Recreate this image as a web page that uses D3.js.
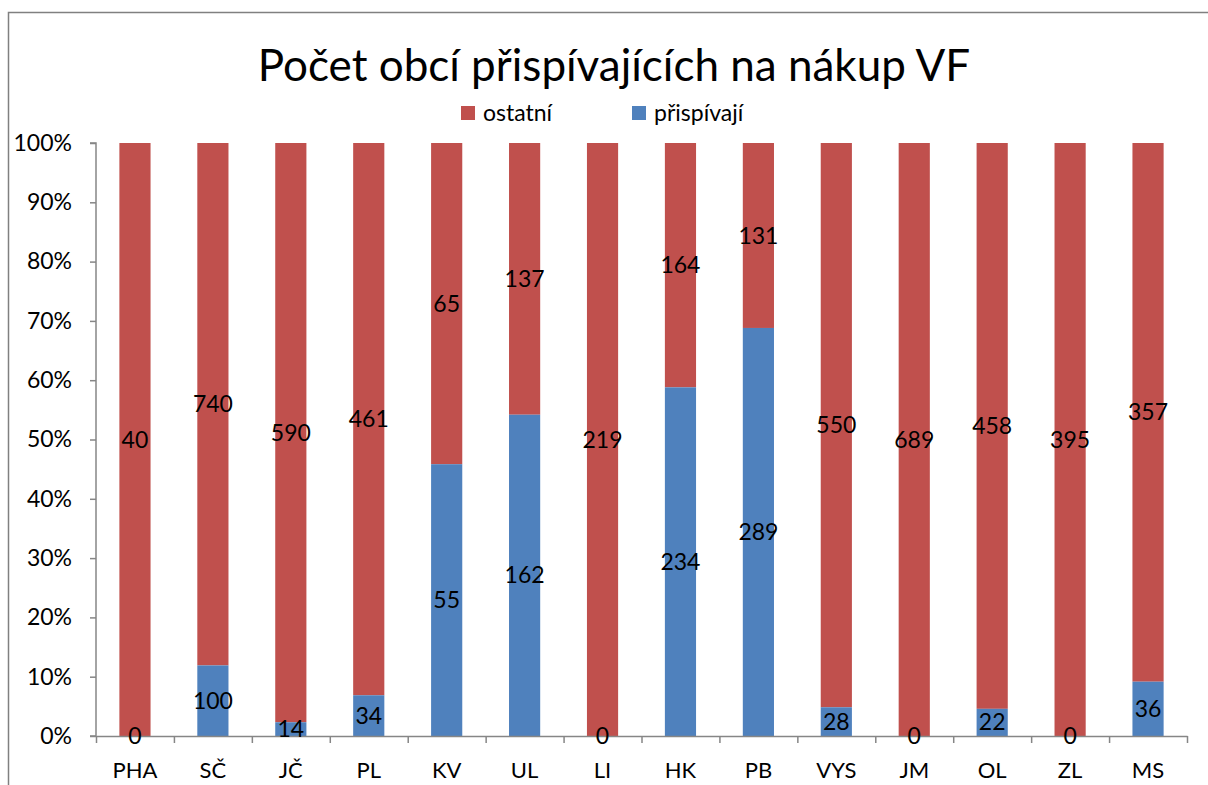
<!DOCTYPE html>
<html>
<head>
<meta charset="utf-8">
<script src="https://cdn.jsdelivr.net/npm/d3@7"></script>
<style>
  body { margin: 0; background: #fff; }
  svg { font-family: Lato, "Open Sans", sans-serif; }
</style>
</head>
<body>
<div id="chart"></div>
<script>
const categories = ["PHA", "SČ", "JČ", "PL", "KV", "UL", "LI", "HK", "PB", "VYS", "JM", "OL", "ZL", "MS"];
const prispivaji = [0, 100, 14, 34, 55, 162, 0, 234, 289, 28, 0, 22, 0, 36];
const ostatni = [40, 740, 590, 461, 65, 137, 219, 164, 131, 550, 689, 458, 395, 357];
const yTicks = [0, 0.1, 0.2, 0.3, 0.4, 0.5, 0.6, 0.7, 0.8, 0.9, 1];

const width = 1208, height = 785;
const margin = {top: 143, right: 21, bottom: 49, left: 96};
const innerW = width - margin.left - margin.right;
const innerH = height - margin.top - margin.bottom;

const red = "#C0504D", blue = "#4F81BD", axisColor = "#868686";

const rows = categories.map((c, i) => {
    const total = prispivaji[i] + ostatni[i];
    return {cat: c, blue: prispivaji[i], red: ostatni[i], pb: prispivaji[i] / total, pr: ostatni[i] / total};
});

const svg = d3.select("#chart").append("svg")
    .attr("width", width)
    .attr("height", height);

// outer frame (only left and top visible)
svg.append("path")
    .attr("d", "M8.5,785 L8.5,12.5 L1208,12.5")
    .attr("fill", "none")
    .attr("stroke", "#808080")
    .attr("stroke-width", 1.5);

svg.append("text")
    .attr("x", 614)
    .attr("y", 81)
    .attr("text-anchor", "middle")
    .attr("font-size", 44)
    .attr("fill", "#000")
    .text("Počet obcí přispívajících na nákup VF");

// legend
const legend = [{name: "ostatní", color: red, x: 461}, {name: "přispívají", color: blue, x: 632}];
const lg = svg.selectAll(".leg").data(legend).join("g")
    .attr("class", "leg")
    .attr("transform", d => "translate(" + d.x + ",106)");
lg.append("rect").attr("width", 14).attr("height", 14).attr("fill", d => d.color);
lg.append("text").attr("x", 22).attr("y", 15).attr("font-size", 23).text(d => d.name);

const g = svg.append("g")
    .attr("transform", "translate(" + margin.left + "," + margin.top + ")");

const x = d3.scaleBand().domain(categories).range([0, innerW]).paddingInner(0.6).paddingOuter(0.3);
const xb = d3.scaleBand().domain(categories).range([0, innerW]);
const y = d3.scaleLinear().domain([0, 1]).range([innerH, 0]);

// bars
const bar = g.selectAll(".bar").data(rows).join("g").attr("class", "bar");
bar.append("rect")
    .attr("x", d => x(d.cat))
    .attr("width", x.bandwidth())
    .attr("y", d => y(1))
    .attr("height", d => y(d.pb) - y(1))
    .attr("fill", red);
bar.append("rect")
    .attr("x", d => x(d.cat))
    .attr("width", x.bandwidth())
    .attr("y", d => y(d.pb))
    .attr("height", d => y(0) - y(d.pb))
    .attr("fill", blue);

// axes
const yAxis = g.append("g")
    .call(d3.axisLeft(y).tickValues(yTicks).tickFormat(d3.format(".0%")).tickSize(6).tickPadding(18));
const xAxis = g.append("g")
    .attr("transform", "translate(0," + innerH + ")")
    .call(d3.axisBottom(xb).tickSize(0).tickPadding(26));
// boundary ticks for x axis
g.append("g").selectAll("line")
    .data(categories.concat(["end"]))
    .join("line")
    .attr("x1", (d, i) => i * xb.step() + 0.5)
    .attr("x2", (d, i) => i * xb.step() + 0.5)
    .attr("y1", innerH)
    .attr("y2", innerH + 7)
    .attr("stroke", axisColor)
    .attr("stroke-width", 1.5);

[yAxis, xAxis].forEach(a => {
    a.selectAll(".domain").attr("stroke", axisColor).attr("stroke-width", 1.5);
    a.selectAll(".tick line").attr("stroke", axisColor).attr("stroke-width", 1.5);
    a.selectAll("text").attr("fill", "#000").attr("font-family", "Lato, sans-serif");
});
yAxis.selectAll("text").attr("font-size", 23);
xAxis.selectAll("text").attr("font-size", 22);
yAxis.select(".domain").attr("d", "M-6," + innerH + "H0V0H-6");

// data labels
const labels = g.append("g").attr("font-size", 23).attr("text-anchor", "middle");
labels.selectAll(".lr").data(rows).join("text")
    .attr("class", "lr")
    .attr("x", d => x(d.cat) + x.bandwidth() / 2)
    .attr("y", d => (y(1) + y(d.pb)) / 2)
    .attr("dy", "0.35em")
    .text(d => d.red);
labels.selectAll(".lb").data(rows).join("text")
    .attr("class", "lb")
    .attr("x", d => x(d.cat) + x.bandwidth() / 2)
    .attr("y", d => (y(0) + y(d.pb)) / 2)
    .attr("dy", "0.35em")
    .text(d => d.blue);
</script>
</body>
</html>
